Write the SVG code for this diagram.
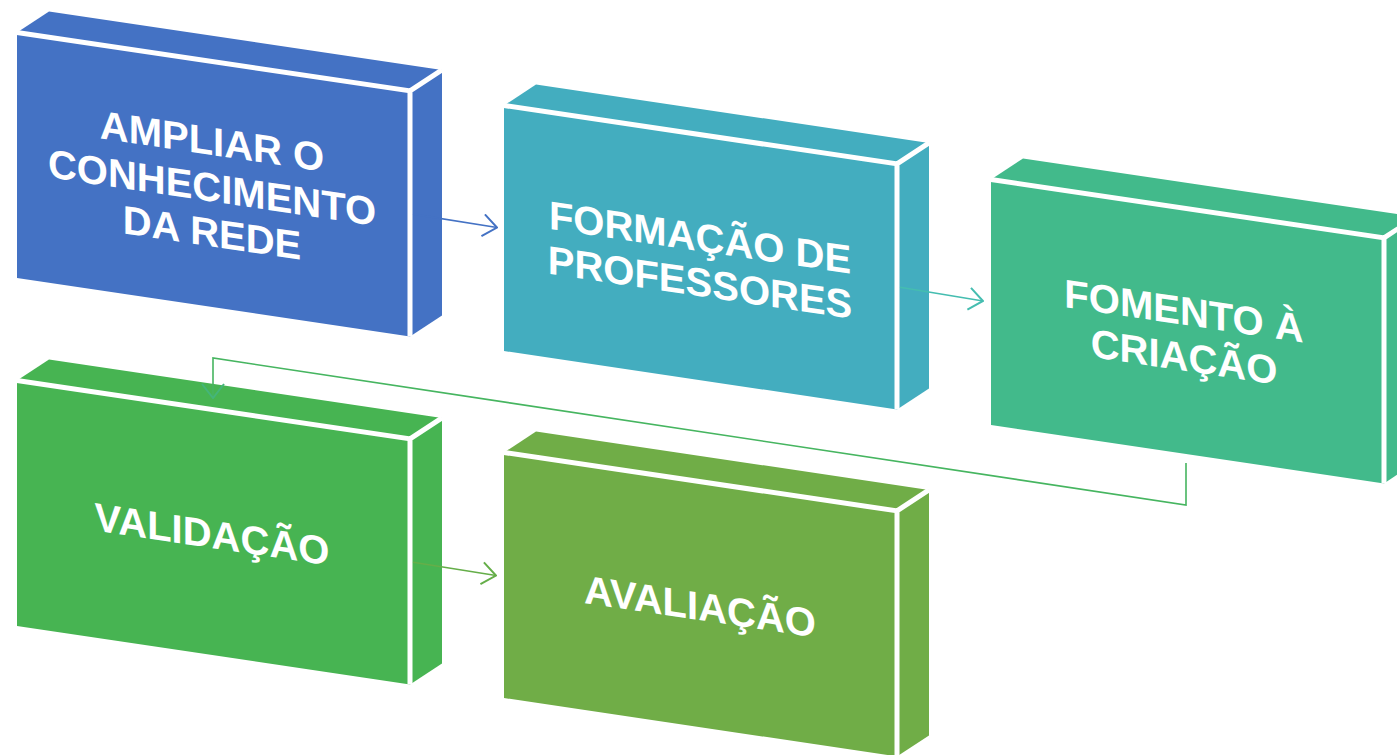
<svg xmlns="http://www.w3.org/2000/svg" width="1397" height="755" viewBox="0 0 1397 755">
<style>
.edge{fill:none;stroke:#ffffff;stroke-width:5;stroke-linejoin:miter}
.lbl{font-family:"Liberation Sans",Arial,sans-serif;font-weight:bold;font-size:40px;fill:#ffffff;text-anchor:middle}
.b1{fill:#4472C4}
.b2{fill:#43ADBF}
.b3{fill:#42BA8B}
.b4{fill:#47B452}
.b5{fill:#70AD47}
.conn{fill:none;stroke-width:1.6}
</style>
<defs>
<marker id="ah-blue" viewBox="0 0 16 24" refX="15" refY="12" markerWidth="16" markerHeight="24" markerUnits="userSpaceOnUse" orient="auto"><path d="M1,1 L15,12 L1,23" fill="none" stroke="#4472C4" stroke-width="2"/></marker>
<marker id="ah-teal" viewBox="0 0 16 24" refX="15" refY="12" markerWidth="16" markerHeight="24" markerUnits="userSpaceOnUse" orient="auto"><path d="M1,1 L15,12 L1,23" fill="none" stroke="#45BDB0" stroke-width="2"/></marker>
<marker id="ah-green" viewBox="0 0 16 24" refX="15" refY="12" markerWidth="16" markerHeight="24" markerUnits="userSpaceOnUse" orient="auto"><path d="M1,1 L15,12 L1,23" fill="none" stroke="#65AE49" stroke-width="2"/></marker>
<marker id="ah-elbow" viewBox="0 0 16 24" refX="15" refY="12" markerWidth="16" markerHeight="24" markerUnits="userSpaceOnUse" orient="auto"><path d="M1,1 L15,12 L1,23" fill="none" stroke="#44B57A" stroke-width="2"/></marker>
</defs>

<g id="node-1" transform="translate(17,32.5)">
<polygon class="b1" points="0,0 393,58.4 393,303.9 0,245.5"/>
<polygon class="b1" points="0,0 32,-21 425,37.4 393,58.4"/>
<polygon class="b1" points="393,58.4 425,37.4 425,282.9 393,303.9"/>
<path class="edge" d="M0,0 L393,58.4 L393,303.9 M393,58.4 L425,37.4"/>
<g transform="skewY(8.46)">
<text class="lbl" x="195" y="93.5">AMPLIAR O</text>
<text class="lbl" x="195" y="140">CONHECIMENTO</text>
<text class="lbl" x="195" y="185">DA REDE</text>
</g>
</g>

<g id="node-2" transform="translate(504,105.5)">
<polygon class="b2" points="0,0 393,58.4 393,303.9 0,245.5"/>
<polygon class="b2" points="0,0 32,-21 425,37.4 393,58.4"/>
<polygon class="b2" points="393,58.4 425,37.4 425,282.9 393,303.9"/>
<path class="edge" d="M0,0 L393,58.4 L393,303.9 M393,58.4 L425,37.4"/>
<g transform="skewY(8.46)">
<text class="lbl" x="196" y="116.5">FORMAÇÃO DE</text>
<text class="lbl" x="196" y="161.5">PROFESSORES</text>
</g>
</g>

<g id="node-3" transform="translate(991,179.5)">
<polygon class="b3" points="0,0 393,58.4 393,303.9 0,245.5"/>
<polygon class="b3" points="0,0 32,-21 425,37.4 393,58.4"/>
<polygon class="b3" points="393,58.4 425,37.4 425,282.9 393,303.9"/>
<path class="edge" d="M0,0 L393,58.4 L393,303.9 M393,58.4 L425,37.4"/>
<g transform="skewY(8.46)">
<text class="lbl" x="193" y="116.5">FOMENTO À</text>
<text class="lbl" x="193" y="162.5">CRIAÇÃO</text>
</g>
</g>

<g id="node-4" transform="translate(17,380.5)">
<polygon class="b4" points="0,0 393,58.4 393,303.9 0,245.5"/>
<polygon class="b4" points="0,0 32,-21 425,37.4 393,58.4"/>
<polygon class="b4" points="393,58.4 425,37.4 425,282.9 393,303.9"/>
<path class="edge" d="M0,0 L393,58.4 L393,303.9 M393,58.4 L425,37.4"/>
<g transform="skewY(8.46)">
<text class="lbl" x="195" y="138.5">VALIDAÇÃO</text>
</g>
</g>

<g id="node-5" transform="translate(504,452.5)">
<polygon class="b5" points="0,0 393,58.4 393,303.9 0,245.5"/>
<polygon class="b5" points="0,0 32,-21 425,37.4 393,58.4"/>
<polygon class="b5" points="393,58.4 425,37.4 425,282.9 393,303.9"/>
<path class="edge" d="M0,0 L393,58.4 L393,303.9 M393,58.4 L425,37.4"/>
<g transform="skewY(8.46)">
<text class="lbl" x="196" y="138.5">AVALIAÇÃO</text>
</g>
</g>

<g id="connectors">
<path class="conn" stroke="#4472C4" d="M413,214.1 L497,227.5" marker-end="url(#ah-blue)"/>
<path class="conn" stroke="#45BDB0" d="M900,287.2 L983,301" marker-end="url(#ah-teal)"/>
<path class="conn" stroke="#46B560" d="M1186,463 L1186,505 L213,358 L213,398" marker-end="url(#ah-elbow)"/>
<path class="conn" stroke="#65AE49" d="M413,562.2 L496,575.5" marker-end="url(#ah-green)"/>
</g>
</svg>
